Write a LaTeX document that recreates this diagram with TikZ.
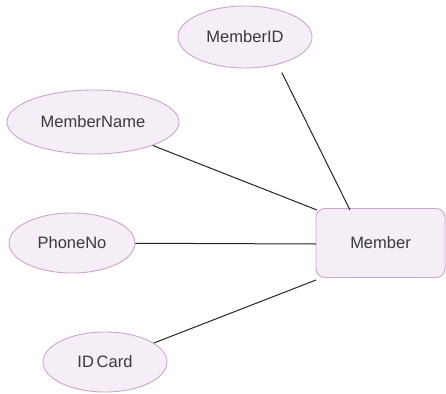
\documentclass[tikz,border=0pt]{standalone}
\usepackage{fontspec}
\setmainfont{Liberation Sans}
\usetikzlibrary{shapes.geometric}
\definecolor{attrfill}{HTML}{F6EEF6}
\definecolor{attrdraw}{HTML}{C9A6CC}
\definecolor{txt}{HTML}{3A3A3A}
\tikzset{
  attr/.style={ellipse, draw=attrdraw, fill=attrfill, line width=0.9pt, inner sep=0pt, text=txt, font=\fontsize{16.5}{18}\selectfont},
  entity/.style={rectangle, rounded corners=9pt, draw=attrdraw, fill=attrfill, line width=0.9pt, inner sep=0pt, text=txt, font=\fontsize{16.5}{18}\selectfont},
  conn/.style={draw=black!85, line width=1pt}
}
\begin{document}
\begin{tikzpicture}[x=1pt,y=-1pt]
\useasboundingbox[fill=white] (0,0) rectangle (446,393);
\node[attr, minimum width=134pt, minimum height=62pt] (mid) at (245,37) {MemberID};
\node[attr, minimum width=172pt, minimum height=64pt] (mname) at (93,122) {MemberName};
\node[attr, minimum width=126pt, minimum height=60pt] (phone) at (72,243) {PhoneNo};
\node[attr, minimum width=124pt, minimum height=60pt] (idc) at (105,362) {ID\,Card};
\node[entity, minimum width=129pt, minimum height=69pt] (mem) at (380.5,243) {Member};
\coordinate (m1) at (350,210);
\coordinate (m2) at (317,210);
\coordinate (m3) at (316,244);
\coordinate (m4) at (316,280);
\draw[conn, shorten >=9pt] (m1) -- (mid.-40);
\draw[conn] (mname) -- (m2);
\draw[conn] (phone) -- (m3);
\draw[conn] (idc) -- (m4);
\end{tikzpicture}
\end{document}
